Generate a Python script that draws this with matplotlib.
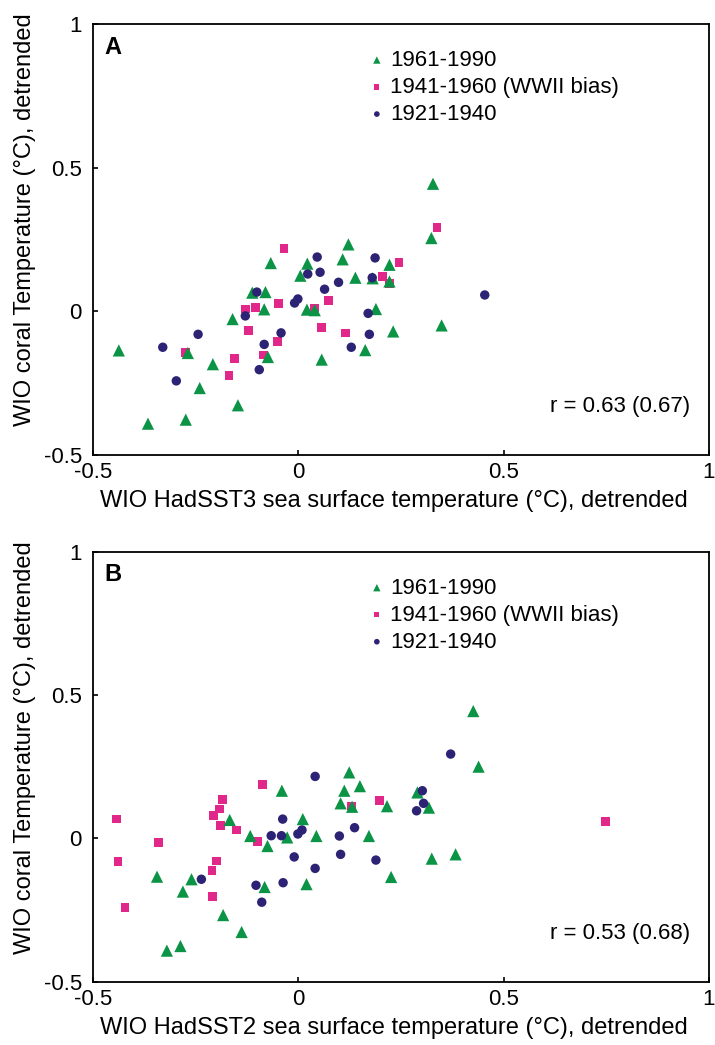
import numpy as np
import matplotlib
matplotlib.use("Agg")
import matplotlib.pyplot as plt

plt.rcParams['font.family'] = ['Liberation Sans', 'DejaVu Sans']

# ---- panel A : HadSST3 ----
a_6190_x = [-0.437, -0.366, -0.274, -0.269, -0.240, -0.208, -0.160, -0.147, -0.112, -0.080,
            -0.083, -0.074, -0.067, 0.005, 0.022, 0.021, 0.040, 0.057, 0.108, 0.122,
            0.139, 0.163, 0.181, 0.189, 0.222, 0.222, 0.231, 0.324, 0.328, 0.349]
a_6190_y = [-0.136, -0.391, -0.377, -0.145, -0.267, -0.184, -0.027, -0.327, 0.065, 0.067,
            0.007, -0.159, 0.168, 0.124, 0.166, 0.006, 0.004, -0.168, 0.181, 0.233,
            0.117, -0.135, 0.115, 0.008, 0.162, 0.104, -0.070, 0.255, 0.444, -0.049]

a_4160_x = [-0.274, -0.169, -0.156, -0.129, -0.121, -0.105, -0.085, -0.050, -0.049, -0.035,
            0.040, 0.057, 0.074, 0.115, 0.205, 0.222, 0.245, 0.338]
a_4160_y = [-0.144, -0.224, -0.165, 0.008, -0.066, 0.013, -0.152, -0.104, 0.028, 0.219,
            0.012, -0.056, 0.037, -0.075, 0.122, 0.096, 0.169, 0.293]

a_2140_x = [-0.330, -0.297, -0.244, -0.129, -0.101, -0.083, -0.095, -0.042, -0.009, -0.001,
            0.023, 0.046, 0.053, 0.064, 0.098, 0.129, 0.170, 0.173, 0.180, 0.187, 0.454]
a_2140_y = [-0.125, -0.242, -0.080, -0.016, 0.067, -0.115, -0.203, -0.075, 0.029, 0.043,
            0.130, 0.189, 0.136, 0.077, 0.101, -0.125, -0.007, -0.080, 0.117, 0.186, 0.057]

# ---- panel B : HadSST2 ----
b_6190_x = [-0.344, -0.320, -0.287, -0.281, -0.260, -0.183, -0.138, -0.167, -0.117, -0.075,
            -0.082, -0.040, -0.027, 0.011, 0.020, 0.044, 0.124, 0.112, 0.150, 0.103,
            0.131, 0.172, 0.216, 0.226, 0.290, 0.318, 0.325, 0.383, 0.426, 0.439]
b_6190_y = [-0.134, -0.392, -0.376, -0.186, -0.143, -0.268, -0.327, 0.064, 0.008, -0.027,
            -0.170, 0.166, 0.003, 0.067, -0.160, 0.008, 0.230, 0.166, 0.182, 0.122,
            0.110, 0.008, 0.112, -0.135, 0.160, 0.107, -0.071, -0.056, 0.444, 0.250]

b_4160_x = [-0.443, -0.439, -0.422, -0.341, -0.210, -0.209, -0.206, -0.199, -0.192, -0.189,
            -0.185, -0.150, -0.099, -0.087, 0.130, 0.198, 0.748]
b_4160_y = [0.067, -0.080, -0.242, -0.015, -0.113, -0.202, 0.079, -0.079, 0.102, 0.044,
            0.136, 0.029, -0.012, 0.189, 0.113, 0.131, 0.058]

b_2140_x = [-0.236, -0.103, -0.089, -0.066, -0.041, -0.038, -0.037, -0.010, -0.001, 0.009,
            0.041, 0.041, 0.100, 0.103, 0.137, 0.189, 0.288, 0.302, 0.305, 0.371]
b_2140_y = [-0.143, -0.164, -0.223, 0.009, 0.009, 0.067, -0.155, -0.065, 0.015, 0.029,
            0.216, -0.105, 0.008, -0.056, 0.037, -0.076, 0.096, 0.166, 0.122, 0.294]

labels = ["1961-1990", "1941-1960 (WWII bias)", "1921-1940"]
ticks = [-0.5, 0, 0.5, 1]
tick_labels = ["-0.5", "0", "0.5", "1"]

GREEN = '#0b9446'
PINK = '#e2278b'
NAVY = '#2c2374'

FS = 16

fig = plt.figure(figsize=(7.15, 10.45), dpi=100)
axA = fig.add_axes([0.130, 0.5646, 0.8616, 0.4124])
axB = fig.add_axes([0.130, 0.0607, 0.8616, 0.4113])

panels = [
    (axA, "A", a_6190_x, a_6190_y, a_4160_x, a_4160_y, a_2140_x, a_2140_y,
     "WIO HadSST3 sea surface temperature (\u00b0C), detrended", "r = 0.63 (0.67)"),
    (axB, "B", b_6190_x, b_6190_y, b_4160_x, b_4160_y, b_2140_x, b_2140_y,
     "WIO HadSST2 sea surface temperature (\u00b0C), detrended", "r = 0.53 (0.68)"),
]

for ax, letter, tx, ty, sx, sy, cx, cy, xlab, rtxt in panels:
    h1 = ax.scatter(tx, ty, marker='^', s=8.8**2, color=GREEN, edgecolors='none', zorder=3)
    h2 = ax.scatter(sx, sy, marker='s', s=6.3**2, color=PINK, edgecolors='none', zorder=2)
    h3 = ax.scatter(cx, cy, marker='o', s=6.8**2, color=NAVY, edgecolors='none', zorder=4)

    ax.set_xlim(-0.5, 1)
    ax.set_ylim(-0.5, 1)
    ax.set_xticks(ticks)
    ax.set_xticklabels(tick_labels)
    ax.set_yticks(ticks)
    ax.set_yticklabels(tick_labels)
    ax.tick_params(direction='in', length=3.5, width=1.2, labelsize=FS)
    ax.tick_params(axis='x', pad=5)
    ax.tick_params(axis='y', pad=8)
    for sp in ax.spines.values():
        sp.set_linewidth(1.3)

    ax.set_xlabel(xlab, fontsize=17, labelpad=3)
    ax.xaxis.set_label_coords(0.488, -0.082)
    ax.set_ylabel("WIO coral Temperature (\u00b0C), detrended", fontsize=17)
    ax.yaxis.set_label_coords(-0.093, 0.545)

    ax.text(0.018, 0.946, letter, transform=ax.transAxes, fontsize=FS + 1,
            fontweight='bold', ha='left', va='center')
    ax.text(0.969, 0.113, rtxt, transform=ax.transAxes, fontsize=FS,
            ha='right', va='center')

    ax.legend([h1, h2, h3], labels, loc='upper left', bbox_to_anchor=(0.45, 0.94),
              frameon=False, fontsize=FS, markerscale=0.6, handlelength=0.6,
              handletextpad=0.3, labelspacing=0.27, borderpad=0, borderaxespad=0)

fig.savefig("out.png", dpi=100)
